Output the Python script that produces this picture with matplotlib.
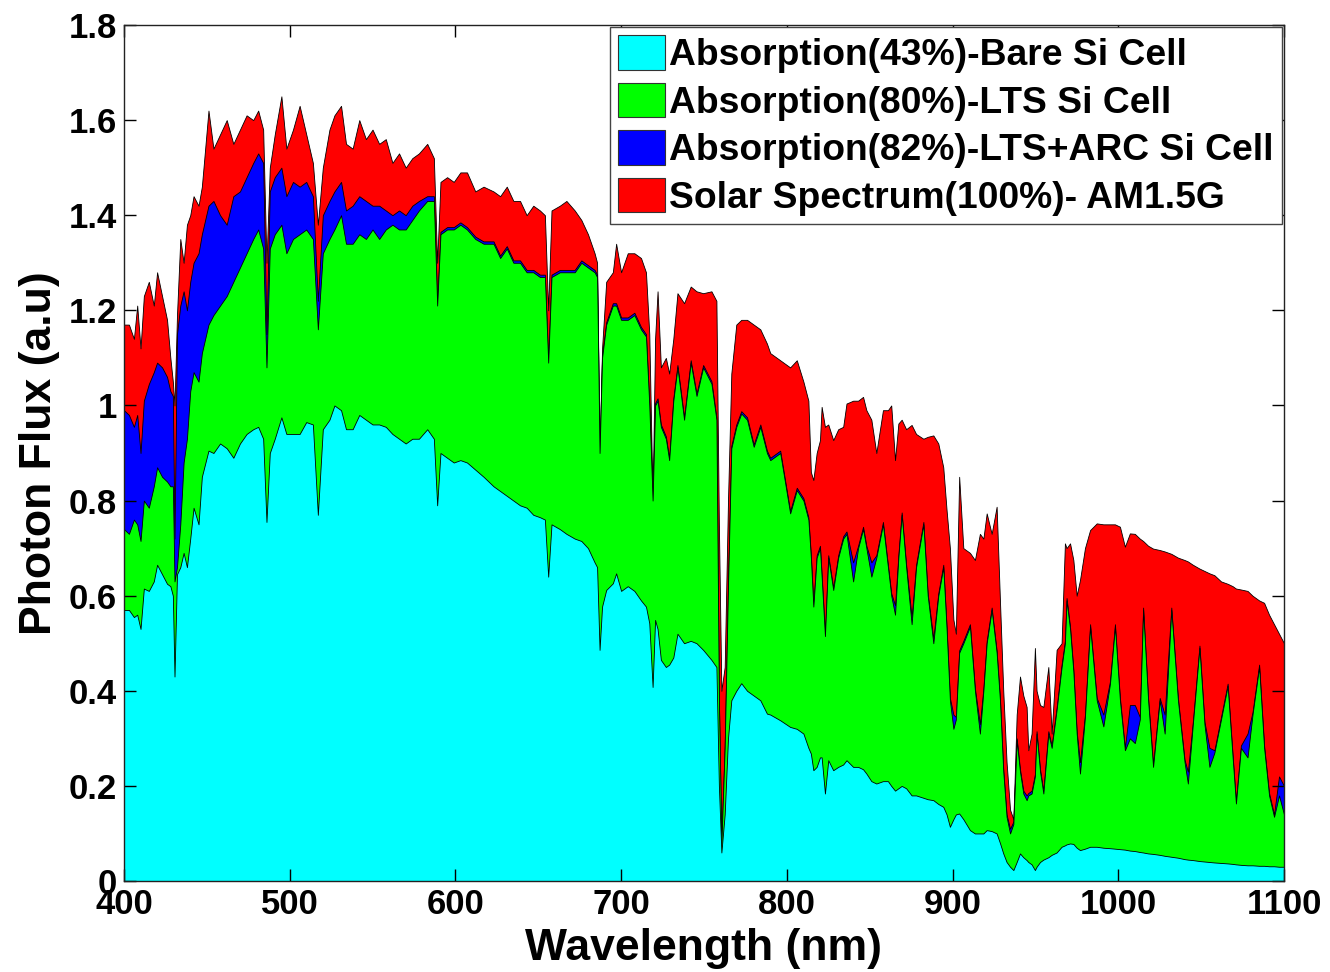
import numpy as np
import matplotlib
matplotlib.use('Agg')
import matplotlib.pyplot as plt
from matplotlib.patches import Patch

plt.rcParams['font.family'] = ['Liberation Sans', 'DejaVu Sans']

# wavelength (nm) and photon flux (a.u.)
wl = [400, 403, 406, 408, 410, 412, 415, 418, 420, 423,
      426, 428, 429.5, 430.5, 432, 434, 436, 438, 440, 442,
      445, 447, 451, 454, 458, 462, 466, 470, 474, 478,
      481, 484, 486, 488, 491, 495, 498, 502, 506, 510,
      514, 517, 520, 524, 527, 531, 534, 538, 542, 546,
      550, 554, 558, 562, 566, 570, 574, 578, 583, 587,
      589, 591, 595, 599, 603, 607, 612, 617, 623, 627,
      631, 635, 639, 643, 647, 651, 654, 656, 658, 663,
      667, 672, 676, 680, 684, 685.5, 687, 688.5, 691, 695,
      697, 700, 704, 708, 712, 715, 717, 719, 720.5, 722,
      724, 727, 729, 731.5, 734, 738, 742, 745.5, 749.5, 754.5,
      757.5, 759, 760.5, 762.5, 764.5, 766.5, 769.5, 772.5, 776, 780,
      784, 788, 790, 796, 802, 806, 810, 813, 814.5, 816,
      818, 820, 821, 823, 825, 828, 831, 834, 836, 840,
      843, 846, 848, 851, 854, 858, 861, 863, 865.3, 867.3,
      869.3, 872, 875.3, 878, 882.4, 885, 888.4, 891.4, 894.4, 896.4,
      898.4, 900.5, 902, 904, 906.5, 910.5, 913.5, 916.5, 918.6, 920.6,
      923.6, 926.6, 928.6, 930.6, 932.6, 934.7, 936.7, 938.7, 940.7, 942.7,
      944.7, 945.7, 947.7, 949.7, 950.7, 952.8, 954.8, 957.8, 959.8, 962.8,
      965.8, 967.8, 968.8, 970.9, 972.9, 974.9, 976.9, 979.9, 983, 987,
      991, 995, 998, 1001, 1004, 1007, 1010, 1013, 1015, 1018,
      1021, 1025, 1028, 1032, 1036, 1040, 1042, 1045, 1049, 1052,
      1055, 1058, 1062, 1066, 1069, 1071, 1074, 1078, 1081, 1085,
      1088, 1091, 1094, 1097, 1100]

# Solar Spectrum(100%) - AM1.5G
am15g = [1.17, 1.17, 1.14, 1.21, 1.12, 1.23, 1.26, 1.21, 1.28, 1.23,
         1.18, 1.10, 1.05, 1.00, 1.19, 1.35, 1.30, 1.38, 1.40, 1.44,
         1.42, 1.46, 1.62, 1.54, 1.57, 1.60, 1.55, 1.58, 1.61, 1.60,
         1.62, 1.58, 1.30, 1.50, 1.57, 1.65, 1.54, 1.58, 1.63, 1.57,
         1.51, 1.38, 1.50, 1.58, 1.61, 1.63, 1.55, 1.54, 1.60, 1.56,
         1.58, 1.55, 1.56, 1.51, 1.53, 1.50, 1.52, 1.53, 1.55, 1.52,
         1.30, 1.47, 1.48, 1.47, 1.49, 1.49, 1.45, 1.46, 1.45, 1.44,
         1.46, 1.43, 1.43, 1.40, 1.42, 1.41, 1.40, 1.20, 1.41, 1.42,
         1.43, 1.41, 1.39, 1.36, 1.32, 1.30, 0.90, 1.12, 1.26, 1.28,
         1.34, 1.28, 1.32, 1.32, 1.31, 1.28, 1.15, 0.80, 1.14, 1.24,
         1.08, 1.10, 1.067, 1.14, 1.236, 1.215, 1.25, 1.24, 1.236, 1.24,
         1.22, 0.75, 0.40, 0.45, 0.80, 1.067, 1.17, 1.18, 1.18, 1.17,
         1.16, 1.13, 1.11, 1.095, 1.08, 1.095, 1.05, 1.01, 0.86, 0.843,
         0.90, 0.927, 0.997, 0.955, 0.96, 0.927, 0.95, 0.955, 1.004, 1.01,
         1.01, 1.018, 0.99, 0.97, 0.90, 0.99, 0.99, 1.0, 0.885, 0.962,
         0.97, 0.95, 0.959, 0.94, 0.93, 0.934, 0.937, 0.92, 0.87, 0.78,
         0.70, 0.55, 0.52, 0.85, 0.70, 0.69, 0.675, 0.73, 0.72, 0.773,
         0.73, 0.787, 0.59, 0.40, 0.25, 0.15, 0.13, 0.35, 0.43, 0.39,
         0.366, 0.275, 0.31, 0.49, 0.40, 0.37, 0.366, 0.45, 0.31, 0.486,
         0.50, 0.71, 0.70, 0.71, 0.675, 0.60, 0.633, 0.70, 0.738, 0.752,
         0.75, 0.75, 0.75, 0.745, 0.703, 0.731, 0.73, 0.72, 0.715, 0.705,
         0.699, 0.696, 0.693, 0.688, 0.68, 0.675, 0.672, 0.665, 0.657, 0.652,
         0.647, 0.643, 0.63, 0.625, 0.62, 0.615, 0.613, 0.61, 0.60, 0.59,
         0.585, 0.56, 0.54, 0.52, 0.50]

# Absorption(82%) - LTS+ARC Si cell
lts_arc = [0.99, 0.98, 0.955, 0.98, 0.90, 1.01, 1.045, 1.07, 1.09, 1.08,
           1.06, 1.03, 1.02, 0.72, 1.15, 1.21, 1.24, 1.20, 1.26, 1.30,
           1.32, 1.36, 1.42, 1.43, 1.40, 1.38, 1.44, 1.45, 1.48, 1.51,
           1.53, 1.51, 1.15, 1.45, 1.48, 1.50, 1.44, 1.47, 1.46, 1.47,
           1.44, 1.22, 1.40, 1.43, 1.45, 1.47, 1.41, 1.42, 1.44, 1.43,
           1.42, 1.42, 1.41, 1.40, 1.41, 1.40, 1.42, 1.43, 1.44, 1.44,
           1.215, 1.365, 1.375, 1.375, 1.385, 1.375, 1.355, 1.345, 1.345, 1.315,
           1.335, 1.305, 1.305, 1.285, 1.285, 1.275, 1.275, 1.095, 1.275, 1.285,
           1.285, 1.285, 1.305, 1.295, 1.285, 1.275, 0.90, 1.105, 1.175, 1.215,
           1.215, 1.185, 1.185, 1.195, 1.165, 1.15, 1.005, 0.80, 1.005, 1.015,
           0.96, 0.935, 0.89, 1.015, 1.085, 0.975, 1.095, 1.025, 1.085, 1.051,
           0.975, 0.385, 0.085, 0.285, 0.625, 0.915, 0.96, 0.988, 0.975, 0.918,
           0.96, 0.905, 0.89, 0.905, 0.778, 0.827, 0.805, 0.765, 0.685, 0.582,
           0.685, 0.705, 0.645, 0.52, 0.685, 0.617, 0.685, 0.725, 0.735, 0.67,
           0.705, 0.745, 0.705, 0.67, 0.685, 0.755, 0.665, 0.605, 0.58, 0.685,
           0.775, 0.665, 0.555, 0.665, 0.755, 0.605, 0.51, 0.605, 0.665, 0.535,
           0.385, 0.35, 0.345, 0.485, 0.505, 0.54, 0.405, 0.33, 0.405, 0.505,
           0.575, 0.485, 0.385, 0.235, 0.14, 0.11, 0.125, 0.30, 0.235, 0.19,
           0.18, 0.185, 0.19, 0.225, 0.315, 0.235, 0.19, 0.315, 0.285, 0.365,
           0.455, 0.505, 0.595, 0.535, 0.445, 0.315, 0.25, 0.35, 0.54, 0.385,
           0.35, 0.42, 0.54, 0.385, 0.28, 0.37, 0.37, 0.345, 0.575, 0.385,
           0.245, 0.385, 0.35, 0.575, 0.385, 0.255, 0.23, 0.335, 0.495, 0.335,
           0.28, 0.275, 0.345, 0.415, 0.265, 0.168, 0.285, 0.31, 0.355, 0.455,
           0.285, 0.185, 0.14, 0.22, 0.20]

# Absorption(80%) - LTS Si cell
lts = [0.74, 0.73, 0.76, 0.75, 0.715, 0.80, 0.785, 0.83, 0.87, 0.85,
       0.84, 0.83, 0.83, 0.63, 0.66, 0.75, 0.88, 0.93, 1.03, 1.07,
       1.05, 1.11, 1.17, 1.19, 1.21, 1.23, 1.26, 1.29, 1.32, 1.35,
       1.37, 1.33, 1.08, 1.33, 1.36, 1.38, 1.32, 1.35, 1.36, 1.37,
       1.35, 1.16, 1.32, 1.35, 1.37, 1.40, 1.34, 1.34, 1.36, 1.35,
       1.37, 1.35, 1.37, 1.38, 1.37, 1.37, 1.39, 1.41, 1.43, 1.43,
       1.21, 1.36, 1.37, 1.37, 1.38, 1.37, 1.35, 1.34, 1.34, 1.31,
       1.33, 1.30, 1.30, 1.28, 1.28, 1.27, 1.27, 1.09, 1.27, 1.28,
       1.28, 1.28, 1.30, 1.29, 1.28, 1.27, 0.90, 1.10, 1.17, 1.21,
       1.21, 1.18, 1.18, 1.19, 1.16, 1.145, 1.00, 0.80, 1.00, 1.01,
       0.955, 0.93, 0.885, 1.01, 1.08, 0.97, 1.09, 1.02, 1.08, 1.046,
       0.97, 0.38, 0.08, 0.28, 0.62, 0.91, 0.955, 0.983, 0.97, 0.913,
       0.955, 0.90, 0.885, 0.90, 0.773, 0.822, 0.80, 0.76, 0.68, 0.577,
       0.68, 0.70, 0.64, 0.515, 0.68, 0.612, 0.68, 0.72, 0.73, 0.63,
       0.70, 0.74, 0.70, 0.64, 0.68, 0.75, 0.66, 0.60, 0.56, 0.68,
       0.77, 0.66, 0.54, 0.66, 0.75, 0.60, 0.50, 0.60, 0.66, 0.53,
       0.38, 0.32, 0.34, 0.48, 0.50, 0.535, 0.40, 0.31, 0.40, 0.50,
       0.57, 0.48, 0.38, 0.23, 0.135, 0.10, 0.12, 0.296, 0.23, 0.184,
       0.17, 0.18, 0.184, 0.22, 0.31, 0.23, 0.184, 0.31, 0.28, 0.36,
       0.45, 0.50, 0.59, 0.53, 0.44, 0.31, 0.226, 0.345, 0.535, 0.38,
       0.325, 0.415, 0.535, 0.38, 0.275, 0.30, 0.29, 0.34, 0.57, 0.38,
       0.24, 0.38, 0.31, 0.57, 0.38, 0.25, 0.205, 0.33, 0.49, 0.33,
       0.24, 0.27, 0.34, 0.41, 0.26, 0.163, 0.28, 0.26, 0.35, 0.45,
       0.28, 0.18, 0.135, 0.18, 0.14]

# Absorption(43%) - bare Si cell
bare = [0.57, 0.57, 0.555, 0.56, 0.53, 0.615, 0.61, 0.63, 0.665, 0.645,
        0.625, 0.62, 0.60, 0.43, 0.645, 0.66, 0.69, 0.66, 0.72, 0.785,
        0.75, 0.85, 0.905, 0.90, 0.92, 0.91, 0.89, 0.92, 0.94, 0.95,
        0.955, 0.93, 0.755, 0.90, 0.93, 0.975, 0.94, 0.94, 0.94, 0.965,
        0.96, 0.77, 0.95, 0.97, 1.00, 0.99, 0.95, 0.95, 0.98, 0.97,
        0.96, 0.96, 0.955, 0.94, 0.93, 0.92, 0.93, 0.93, 0.95, 0.93,
        0.79, 0.90, 0.89, 0.88, 0.885, 0.88, 0.865, 0.85, 0.83, 0.82,
        0.81, 0.80, 0.79, 0.785, 0.77, 0.765, 0.76, 0.64, 0.75, 0.74,
        0.73, 0.72, 0.715, 0.70, 0.67, 0.66, 0.486, 0.577, 0.612, 0.626,
        0.647, 0.61, 0.62, 0.61, 0.59, 0.577, 0.542, 0.408, 0.549, 0.53,
        0.465, 0.45, 0.455, 0.47, 0.52, 0.50, 0.505, 0.50, 0.486, 0.465,
        0.45, 0.20, 0.06, 0.14, 0.30, 0.38, 0.40, 0.416, 0.40, 0.39,
        0.38, 0.352, 0.35, 0.338, 0.324, 0.32, 0.31, 0.28, 0.268, 0.233,
        0.24, 0.26, 0.26, 0.184, 0.254, 0.233, 0.24, 0.245, 0.254, 0.24,
        0.24, 0.235, 0.226, 0.21, 0.205, 0.21, 0.21, 0.20, 0.19, 0.195,
        0.20, 0.195, 0.18, 0.18, 0.175, 0.172, 0.17, 0.162, 0.156, 0.14,
        0.114, 0.13, 0.14, 0.142, 0.13, 0.107, 0.10, 0.10, 0.10, 0.107,
        0.105, 0.10, 0.08, 0.058, 0.04, 0.03, 0.023, 0.04, 0.058, 0.05,
        0.044, 0.04, 0.035, 0.023, 0.03, 0.04, 0.045, 0.05, 0.055, 0.06,
        0.072, 0.075, 0.077, 0.079, 0.078, 0.07, 0.065, 0.068, 0.072, 0.072,
        0.07, 0.069, 0.068, 0.067, 0.066, 0.064, 0.063, 0.061, 0.06, 0.058,
        0.057, 0.055, 0.053, 0.051, 0.049, 0.046, 0.045, 0.044, 0.042, 0.041,
        0.04, 0.039, 0.038, 0.037, 0.036, 0.035, 0.034, 0.033, 0.033, 0.032,
        0.032, 0.031, 0.031, 0.03, 0.03]

labels = ['Absorption(43%)-Bare Si Cell',
          'Absorption(80%)-LTS Si Cell',
          'Absorption(82%)-LTS+ARC Si Cell',
          'Solar Spectrum(100%)- AM1.5G']
colors = ['#00ffff', '#00ff00', '#0000ff', '#ff0000']

xticks = [400, 500, 600, 700, 800, 900, 1000, 1100]
yticks = [0, 0.2, 0.4, 0.6, 0.8, 1, 1.2, 1.4, 1.6, 1.8]
ytick_labels = ['0', '0.2', '0.4', '0.6', '0.8', '1', '1.2', '1.4', '1.6', '1.8']

assert len(wl) == len(am15g) == len(lts_arc) == len(lts) == len(bare)

fig = plt.figure(figsize=(13.3, 9.72), dpi=100)
ax = fig.add_axes([0.0932, 0.0936, 0.8722, 0.8807])

# back to front: biggest area first, the bare cell ends up on top
series = [bare, lts, lts_arc, am15g]
for i in [3, 2, 1, 0]:
    ax.fill_between(wl, 0, series[i], facecolor=colors[i], edgecolor='k',
                    linewidth=0.6)

ax.set_xlim(400, 1100)
ax.set_ylim(0, 1.8)
ax.set_xticks(xticks)
ax.set_yticks(yticks)
ax.set_yticklabels(ytick_labels)
ax.tick_params(direction='in', length=8.6, width=1, top=True, right=True,
               labelsize=25, pad=5)
for lbl in ax.get_xticklabels() + ax.get_yticklabels():
    lbl.set_fontweight('bold')
for sp in ax.spines.values():
    sp.set_linewidth(1.0)
    sp.set_color('#222222')

ax.set_xlabel('Wavelength (nm)', fontsize=32, fontweight='bold', labelpad=5)
ax.set_ylabel('Photon Flux (a.u)', fontsize=32, fontweight='bold', labelpad=6)

handles = [Patch(facecolor=c, edgecolor='#333333', linewidth=0.8) for c in colors]
leg = ax.legend(handles, labels, loc='upper right',
                prop={'size': 26.8, 'weight': 'bold'},
                frameon=True, fancybox=False, framealpha=1,
                borderaxespad=0.05, handlelength=1.26, handleheight=1.05,
                handletextpad=0.13, labelspacing=0.26, borderpad=0.22)
leg.get_frame().set_edgecolor('#444444')
leg.get_frame().set_linewidth(1.0)

fig.savefig('out.png', dpi=100, facecolor='white')
